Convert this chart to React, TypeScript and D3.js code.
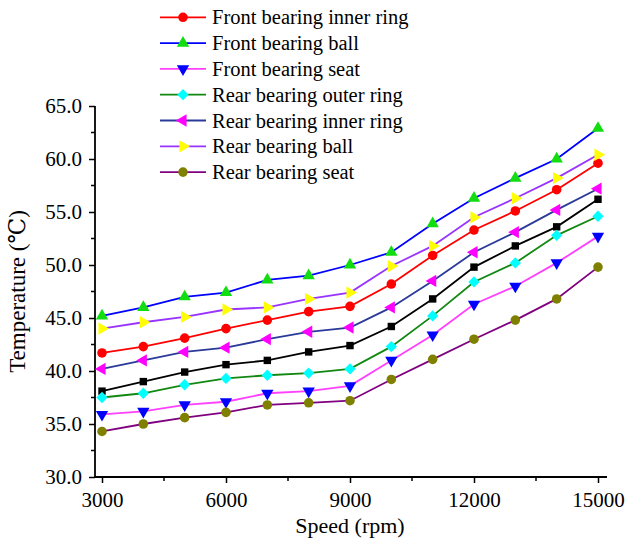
import React, { useEffect, useRef } from "react";
import * as d3 from "d3";

const speeds = [3000, 4000, 5000, 6000, 7000, 8000, 9000, 10000, 11000, 12000, 13000, 14000, 15000];

const frontInnerRing = [41.7, 42.3, 43.1, 44.0, 44.8, 45.6, 46.1, 48.2, 50.9, 53.3, 55.1, 57.1, 59.6];
const frontBall = [45.2, 46.0, 47.0, 47.4, 48.6, 49.0, 50.0, 51.2, 53.9, 56.3, 58.2, 60.0, 62.9];
const frontSeat = [35.9, 36.2, 36.8, 37.1, 37.9, 38.1, 38.6, 41.0, 43.4, 46.3, 48.0, 50.2, 52.7];
const rearOuterRing = [37.5, 37.9, 38.7, 39.3, 39.6, 39.8, 40.2, 42.3, 45.2, 48.4, 50.2, 52.8, 54.6];
const rearInnerRing = [40.2, 41.0, 41.8, 42.2, 43.0, 43.7, 44.1, 46.0, 48.5, 51.2, 53.1, 55.2, 57.2];
const rearBall = [44.0, 44.6, 45.1, 45.8, 46.0, 46.8, 47.4, 49.9, 51.8, 54.5, 56.3, 58.2, 60.4];
const rearSeat = [34.3, 35.0, 35.6, 36.1, 36.8, 37.0, 37.2, 39.2, 41.1, 43.0, 44.8, 46.8, 49.8];
const unlabeledSeries = [38.1, 39.0, 39.9, 40.6, 41.0, 41.8, 42.4, 44.2, 46.8, 49.8, 51.8, 53.6, 56.2];

const xTicks = [3000, 6000, 9000, 12000, 15000];
const xMinorTicks = [4500, 7500, 10500, 13500];
const yTicks = [30, 35, 40, 45, 50, 55, 60, 65];
const yMinorTicks = [32.5, 37.5, 42.5, 47.5, 52.5, 57.5, 62.5];

const seriesNames = [
  "Front bearing inner ring",
  "Front bearing ball",
  "Front bearing seat",
  "Rear bearing outer ring",
  "Rear bearing inner ring",
  "Rear bearing ball",
  "Rear bearing seat",
];

type Series = {
  name: string | null;
  values: number[];
  line: string;
  fill: string;
  shape: string;
};

const FONT = "Liberation Serif, Times New Roman, Times, DejaVu Serif, serif";

export default function App() {
  const ref = useRef<SVGSVGElement | null>(null);

  useEffect(() => {
    const svg = d3.select(ref.current);
    svg.selectAll("*").remove();

    const series: Series[] = [
      { name: null, values: unlabeledSeries, line: "#000000", fill: "#000000", shape: "square" },
      { name: seriesNames[0], values: frontInnerRing, line: "#ff0000", fill: "#ff0000", shape: "circle" },
      { name: seriesNames[1], values: frontBall, line: "#0000ff", fill: "#11dd11", shape: "up" },
      { name: seriesNames[2], values: frontSeat, line: "#ff40ff", fill: "#0000ff", shape: "down" },
      { name: seriesNames[3], values: rearOuterRing, line: "#118811", fill: "#00ffff", shape: "diamond" },
      { name: seriesNames[4], values: rearInnerRing, line: "#2b3a99", fill: "#ff00ff", shape: "left" },
      { name: seriesNames[5], values: rearBall, line: "#9933ff", fill: "#ffff00", shape: "right" },
      { name: seriesNames[6], values: rearSeat, line: "#800080", fill: "#808000", shape: "circle2" },
    ];

    const x = d3.scaleLinear().domain([3000, 15000]).range([102, 598]);
    const y = d3.scaleLinear().domain([30, 65]).range([477, 106]);

    const symbolFor = (shape: string) => {
      switch (shape) {
        case "square":
          return { path: d3.symbol(d3.symbolSquare, 55)(), rot: 0 };
        case "circle":
        case "circle2":
          return { path: d3.symbol(d3.symbolCircle, 72)(), rot: 0 };
        case "up":
          return { path: d3.symbol(d3.symbolTriangle, 66)(), rot: 0 };
        case "down":
          return { path: d3.symbol(d3.symbolTriangle, 66)(), rot: 180 };
        case "left":
          return { path: d3.symbol(d3.symbolTriangle, 66)(), rot: -90 };
        case "right":
          return { path: d3.symbol(d3.symbolTriangle, 66)(), rot: 90 };
        case "diamond":
        default:
          return { path: d3.symbol(d3.symbolSquare, 64)(), rot: 45 };
      }
    };

    const axisColor = "#000";
    const xg = svg.append("g").attr("transform", `translate(0,${y(30)})`);
    xg.call(
      d3.axisBottom(x).tickValues(xTicks).tickSize(6).tickPadding(9).tickFormat((d) => String(d))
    );
    xg.select(".domain").remove();
    xg.attr("font-family", null).attr("font-size", null);
    xg.selectAll("text").style("font-family", FONT).style("font-size", "21px").attr("fill", "#000");
    xg.selectAll("line").attr("stroke", axisColor).attr("stroke-width", 1.5);
    xg.selectAll(".minor")
      .data(xMinorTicks)
      .enter()
      .append("line")
      .attr("x1", (d) => x(d))
      .attr("x2", (d) => x(d))
      .attr("y1", 0)
      .attr("y2", 4)
      .attr("stroke", axisColor)
      .attr("stroke-width", 1.5);
    xg.append("line")
      .attr("x1", 95)
      .attr("x2", 607)
      .attr("y1", 0)
      .attr("y2", 0)
      .attr("stroke", axisColor)
      .attr("stroke-width", 1.8);

    const yg = svg.append("g").attr("transform", `translate(95,0)`);
    yg.call(
      d3.axisLeft(y).tickValues(yTicks).tickSize(6).tickPadding(7).tickFormat(d3.format(".1f") as any)
    );
    yg.select(".domain").remove();
    yg.attr("font-family", null).attr("font-size", null);
    yg.selectAll("text").style("font-family", FONT).style("font-size", "21px").attr("fill", "#000");
    yg.selectAll("line").attr("stroke", axisColor).attr("stroke-width", 1.5);
    yg.selectAll(".minor")
      .data(yMinorTicks)
      .enter()
      .append("line")
      .attr("x1", 0)
      .attr("x2", -4)
      .attr("y1", (d) => y(d))
      .attr("y2", (d) => y(d))
      .attr("stroke", axisColor)
      .attr("stroke-width", 1.5);
    yg.append("line")
      .attr("x1", 0)
      .attr("x2", 0)
      .attr("y1", y(65))
      .attr("y2", y(30) + 1)
      .attr("stroke", axisColor)
      .attr("stroke-width", 1.8);

    svg
      .append("text")
      .attr("x", (x(3000) + x(15000)) / 2)
      .attr("y", 533)
      .attr("text-anchor", "middle")
      .style("font-family", FONT)
      .style("font-size", "22px")
      .text("Speed (rpm)");

    svg
      .append("text")
      .attr("transform", `translate(25,${(y(30) + y(65)) / 2}) rotate(-90)`)
      .attr("text-anchor", "middle")
      .style("font-family", FONT)
      .style("font-size", "23px")
      .text("Temperature (℃)");

    const line = d3
      .line<number>()
      .x((_, i) => x(speeds[i]))
      .y((d) => y(d));

    series.forEach((s) => {
      svg
        .append("path")
        .attr("d", line(s.values) as string)
        .attr("fill", "none")
        .attr("stroke", s.line)
        .attr("stroke-width", 1.8);
    });
    series.forEach((s) => {
      const sym = symbolFor(s.shape);
      svg
        .append("g")
        .selectAll("path")
        .data(s.values)
        .enter()
        .append("path")
        .attr("d", sym.path as string)
        .attr("transform", (d, i) => `translate(${x(speeds[i])},${y(d)}) rotate(${sym.rot})`)
        .attr("fill", s.fill);
    });

    const legendSeries = series.filter((s) => s.name !== null);
    const lg = svg.append("g");
    legendSeries.forEach((s, i) => {
      const ly = 17.3 + i * 25.8;
      lg.append("line")
        .attr("x1", 160)
        .attr("x2", 206)
        .attr("y1", ly)
        .attr("y2", ly)
        .attr("stroke", s.line)
        .attr("stroke-width", 1.8);
      const sym = symbolFor(s.shape);
      lg.append("path")
        .attr("d", sym.path as string)
        .attr("transform", `translate(183,${ly}) rotate(${sym.rot})`)
        .attr("fill", s.fill);
      lg.append("text")
        .attr("x", 212)
        .attr("y", ly)
        .attr("dy", "0.35em")
        .style("font-family", FONT)
        .style("font-size", "20.5px")
        .attr("fill", "#000")
        .text(s.name as string);
    });
  }, []);

  return (
    <svg
      ref={ref}
      width={626}
      height={541}
      style={{ position: "absolute", left: 0, top: 0, background: "#fff" }}
    />
  );
}
